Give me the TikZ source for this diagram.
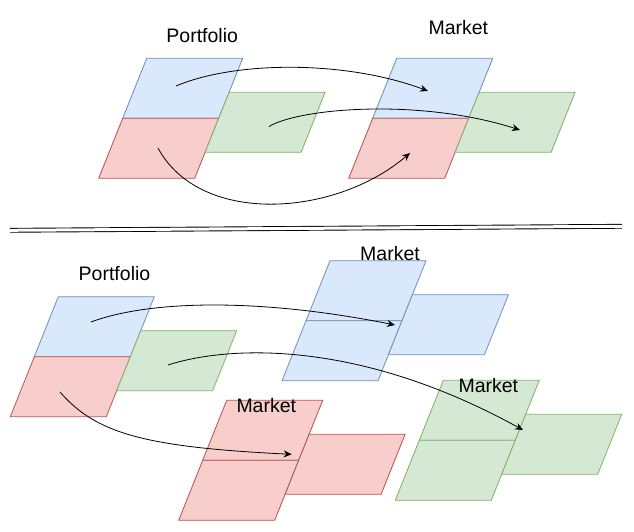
\documentclass[tikz,border=0pt]{standalone}
\usepackage{fontspec}
\setmainfont{Liberation Sans}
\usetikzlibrary{arrows.meta}

\definecolor{blueFill}{HTML}{DAE8FC}
\definecolor{blueLine}{HTML}{6C8EBF}
\definecolor{redFill}{HTML}{F8CECC}
\definecolor{redLine}{HTML}{B85450}
\definecolor{greenFill}{HTML}{D5E8D4}
\definecolor{greenLine}{HTML}{82B366}

\begin{document}
\begin{tikzpicture}[x=1pt, y=-1pt, line width=0.8pt,
    bluebox/.style={fill=blueFill, draw=blueLine},
    redbox/.style={fill=redFill, draw=redLine},
    greenbox/.style={fill=greenFill, draw=greenLine},
    title/.style={inner sep=0pt, font=\fontsize{19.5}{23}\selectfont},
    flow/.style={-{Stealth[length=8pt, width=7pt]}}]
    \useasboundingbox (0,0) rectangle (634,532);
    % plates, one colour after the other
    \foreach \p in {(146.7,58.3), (396.7,58.3), (58.3,296.7), (330,260.7), (306,320.7), (412.4,294.7)}
      \filldraw [bluebox] \p -- ++(96,0) -- ++(-24,60) -- ++(-96,0) -- cycle;
    \foreach \p in {(122.7,118.3), (372.7,118.3), (34.3,356.7), (226.7,400.3), (202.7,460.3), (309.1,434.3)}
      \filldraw [redbox] \p -- ++(96,0) -- ++(-24,60) -- ++(-96,0) -- cycle;
    \foreach \p in {(229.1,92.3), (479.1,92.3), (140.7,330.7), (443.3,380.3), (419.3,440.3), (525.7,414.3)}
      \filldraw [greenbox] \p -- ++(96,0) -- ++(-24,60) -- ++(-96,0) -- cycle;
    \draw [double, double distance=3pt, line width=0.9pt] (10,230.3) coordinate (sepL) -- (622,226.3) coordinate (sepR);
    \node [title] (pfUp) at (202.2,35.5) {Portfolio};
    \node [title] (mkUp) at (458.3,27.5) {Market};
    \node [title] (pfDown) at (114.5,273.3) {Portfolio};
    \node [title] (mkBlue) at (390,253.5) {Market};
    \node [title] (mkRed) at (266.3,405.2) {Market};
    \node [title] (mkGreen) at (488.3,385.2) {Market};
    % arrow ends
    \coordinate (upBlueA) at (176,86);
    \coordinate (upBlueB) at (428,91);
    \coordinate (upGreenA) at (269,126.5);
    \coordinate (upGreenB) at (520,130);
    \coordinate (upRedA) at (158,148);
    \coordinate (upRedB) at (410,153);
    \coordinate (dnBlueA) at (91,322);
    \coordinate (dnBlueB) at (395,325);
    \coordinate (dnGreenA) at (168,365);
    \coordinate (dnGreenB) at (523,430);
    \coordinate (dnRedA) at (60,392);
    \coordinate (dnRedB) at (291.7,454.3);
    \draw [flow] (upBlueA) .. controls (235,61) and (345,60) .. (upBlueB);
    \draw [flow] (upGreenA) .. controls (300,108) and (420,98) .. (upGreenB);
    \draw [flow] (upRedA) .. controls (200,226) and (335,217) .. (upRedB);
    \draw [flow] (dnBlueA) .. controls (150,300) and (260,298) .. (dnBlueB);
    \draw [flow] (dnGreenA) .. controls (230,345) and (360,340) .. (dnGreenB);
    \draw [flow] (dnRedA) .. controls (95,432) and (140,447) .. (dnRedB);
  \end{tikzpicture}
\end{document}
